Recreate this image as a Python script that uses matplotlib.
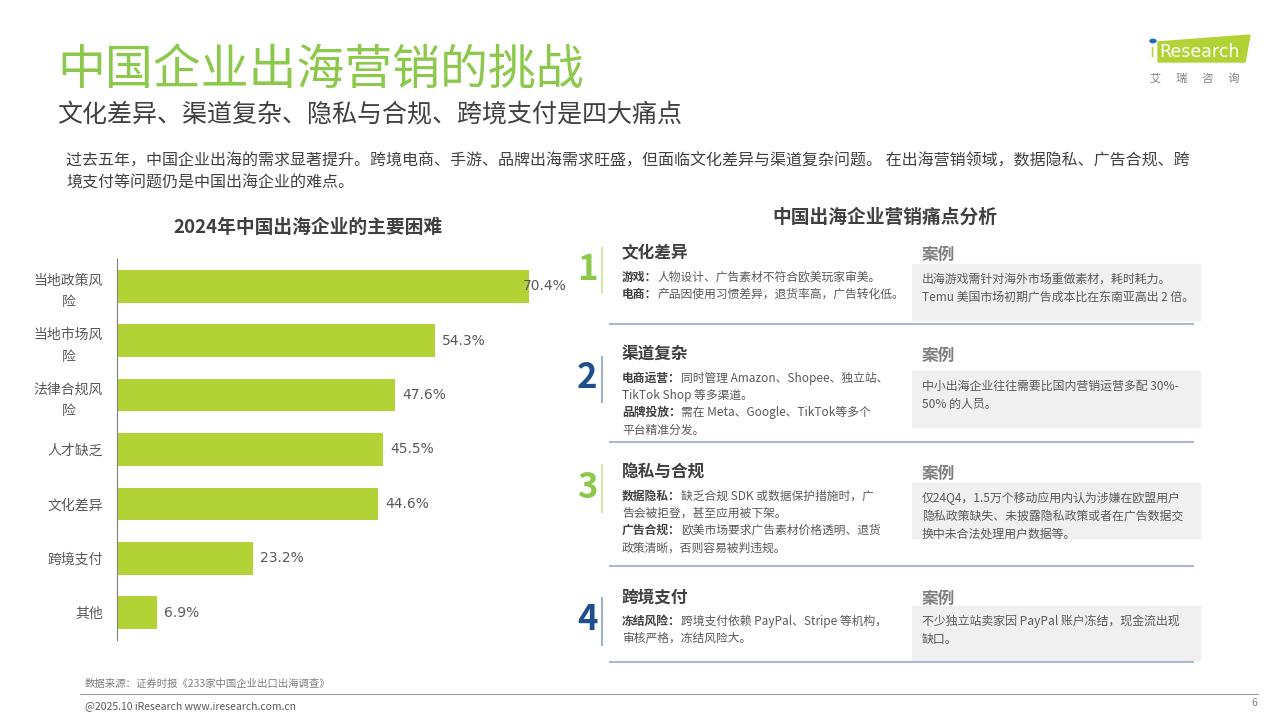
import matplotlib
matplotlib.use("Agg")
import matplotlib.pyplot as plt
from matplotlib.patches import Rectangle, Polygon, Circle
from matplotlib.lines import Line2D

plt.rcParams['font.family'] = ['Noto Sans CJK SC', 'DejaVu Sans']

# data
categories = ['当地政策风\n险', '当地市场风\n险', '法律合规风\n险', '人才缺乏', '文化差异', '跨境支付', '其他']
values = [70.4, 54.3, 47.6, 45.5, 44.6, 23.2, 6.9]

sections = [
    {'num': '1', 'title': '文化差异',
     'lines': [[('游戏：', True), ('人物设计、广告素材不符合欧美玩家审美。', False)],
               [('电商：', True), ('产品因使用习惯差异，退货率高，广告转化低。', False)]],
     'case': ['出海游戏需针对海外市场重做素材，耗时耗力。', 'Temu 美国市场初期广告成本比在东南亚高出 2 倍。']},
    {'num': '2', 'title': '渠道复杂',
     'lines': [[('电商运营：', True), ('同时管理 Amazon、Shopee、独立站、', False)],
               [('TikTok Shop 等多渠道。', False)],
               [('品牌投放：', True), ('需在 Meta、Google、TikTok等多个', False)],
               [('平台精准分发。', False)]],
     'case': ['中小出海企业往往需要比国内营销运营多配 30%-', '50% 的人员。']},
    {'num': '3', 'title': '隐私与合规',
     'lines': [[('数据隐私：', True), ('缺乏合规 SDK 或数据保护措施时，广', False)],
               [('告会被拒登，甚至应用被下架。', False)],
               [('广告合规：', True), ('欧美市场要求广告素材价格透明、退货', False)],
               [('政策清晰，否则容易被判违规。', False)]],
     'case': ['仅24Q4，1.5万个移动应用内认为涉嫌在欧盟用户', '隐私政策缺失、未披露隐私政策或者在广告数据交', '换中未合法处理用户数据等。']},
    {'num': '4', 'title': '跨境支付',
     'lines': [[('冻结风险：', True), ('跨境支付依赖 PayPal、Stripe 等机构，', False)],
               [('审核严格，冻结风险大。', False)]],
     'case': ['不少独立站卖家因 PayPal 账户冻结，现金流出现', '缺口。']},
]

GREEN = '#8cc84b'
BAR = '#b2d235'
BLUE = '#1f4e8c'
DARK = '#404040'
GRAY = '#595959'

W, H = 1280, 720
fig = plt.figure(figsize=(12.8, 7.2), dpi=100)


def px(x, y):
    return x / W, 1 - y / H


def t(x, y, s, **kw):
    kw.setdefault('va', 'center')
    return fig.text(*px(x, y), s, **kw)


renderer = fig.canvas.get_renderer()


def rich(x, y, parts, size=8.5):
    cur = x
    for s, bold in parts:
        txt = t(cur, y, s, fontsize=size, color=DARK if bold else GRAY,
                fontweight='bold' if bold else 'normal')
        bb = txt.get_window_extent(renderer)
        cur += bb.width


# titles
t(57, 70, '中国企业出海营销的挑战', fontsize=34.5, color=GREEN)
t(57, 114, '文化差异、渠道复杂、隐私与合规、跨境支付是四大痛点', fontsize=18, color=DARK)
t(66, 161, '过去五年，中国企业出海的需求显著提升。跨境电商、手游、品牌出海需求旺盛，但面临文化差异与渠道复杂问题。 在出海营销领域，数据隐私、广告合规、跨',
  fontsize=11.5, color=DARK)
t(66, 183, '境支付等问题仍是中国出海企业的难点。', fontsize=11.5, color=DARK)

# logo
fig.patches.append(Polygon([px(1158, 42), px(1250, 35), px(1245, 62), px(1158, 62)],
                           closed=True, transform=fig.transFigure, color='#b2d235', zorder=1))
fig.patches.append(Circle(px(1153, 41), 3 / W, transform=fig.transFigure, color='#1f6fb5', zorder=2))
t(1149, 52, 'ı', fontsize=13, color='#b2d235', family='DejaVu Sans')
t(1159, 52, 'Research', fontsize=12.5, color='white', family='DejaVu Sans')
t(1150, 78, '艾      瑞      咨      询', fontsize=8, color='#7f7f7f')

# bar chart
t(308, 227, '2024年中国出海企业的主要困难', fontsize=13.5, color=DARK, fontweight='bold', ha='center')
ax = fig.add_axes([117 / W, 1 - 640 / H, (585 - 117) / W, (640 - 259) / H])
ypos = list(range(len(categories)))
ax.barh(ypos, values, height=0.6, color=BAR)
ax.set_xlim(0, 80)
ax.set_ylim(len(categories) - 0.5, -0.5)
ax.set_yticks(ypos)
ax.set_yticklabels(categories, fontsize=10, color=GRAY, multialignment='center', linespacing=1.7)
ax.tick_params(axis='y', length=0, pad=10)
ax.set_xticks([])
for sp in ['top', 'right', 'bottom']:
    ax.spines[sp].set_visible(False)
ax.spines['left'].set_color('#7f7f7f')
vmax = max(values)
for yv, v in zip(ypos, values):
    off = -4 if v == vmax else 5
    ax.annotate(f'{v:.1f}%', (v, yv), xytext=(off, 0), textcoords='offset points',
                va='center', ha='left', fontsize=10, color=GRAY, family='DejaVu Sans')

# right panel
t(885, 217, '中国出海企业营销痛点分析', fontsize=13.5, color=DARK, fontweight='bold', ha='center')
num_y = [270, 378, 487, 620]
vline = [(248, 292), (357, 402), (465, 512), (598, 645)]
head_y = [253, 354, 472, 597]
box = [(264, 320), (371, 427), (483, 538), (606, 660)]
div_y = [324, 442, 566, 662]
for i, sec in enumerate(sections):
    col = GREEN if i % 2 == 0 else BLUE
    lcol = '#d6e6a8' if i % 2 == 0 else '#9fb2c8'
    t(587, num_y[i], sec['num'], fontsize=25, fontweight='bold', color=col, ha='center')
    fig.lines.append(Line2D([602 / W] * 2, [1 - vline[i][0] / H, 1 - vline[i][1] / H],
                            transform=fig.transFigure, color=lcol, lw=1.5))
    t(622, head_y[i], sec['title'], fontsize=12, fontweight='bold', color=DARK)
    t(922, head_y[i] + 2, '案例', fontsize=12, fontweight='bold', color='#7f7f7f')
    y0, y1 = box[i]
    fig.patches.append(Rectangle(px(912, y1), 288 / W, (y1 - y0) / H, transform=fig.transFigure,
                                 color='#f0f0f0', zorder=0))
    ly = head_y[i] + 24
    for parts in sec['lines']:
        rich(622, ly, parts)
        ly += 17.3
    cy = y0 + 15
    for line in sec['case']:
        t(922, cy, line, fontsize=8.6, color=GRAY)
        cy += 18
    fig.lines.append(Line2D([610 / W, 1193 / W], [1 - div_y[i] / H] * 2, transform=fig.transFigure,
                            color='#a8b9d0', lw=1.5))

# footer
t(85, 684, '数据来源：证券时报《233家中国企业出口出海调查》', fontsize=7.5, color='#7f7f7f')
fig.lines.append(Line2D([80 / W, 1258 / W], [1 - 694 / H] * 2, transform=fig.transFigure,
                        color='#a0a0a0', lw=0.8))
t(85, 706, '@2025.10 iResearch www.iresearch.com.cn', fontsize=7.5, color='#595959')
t(1254, 703, '6', fontsize=7.5, color='#7f7f7f', ha='center')

fig.savefig('out.png', dpi=100)
